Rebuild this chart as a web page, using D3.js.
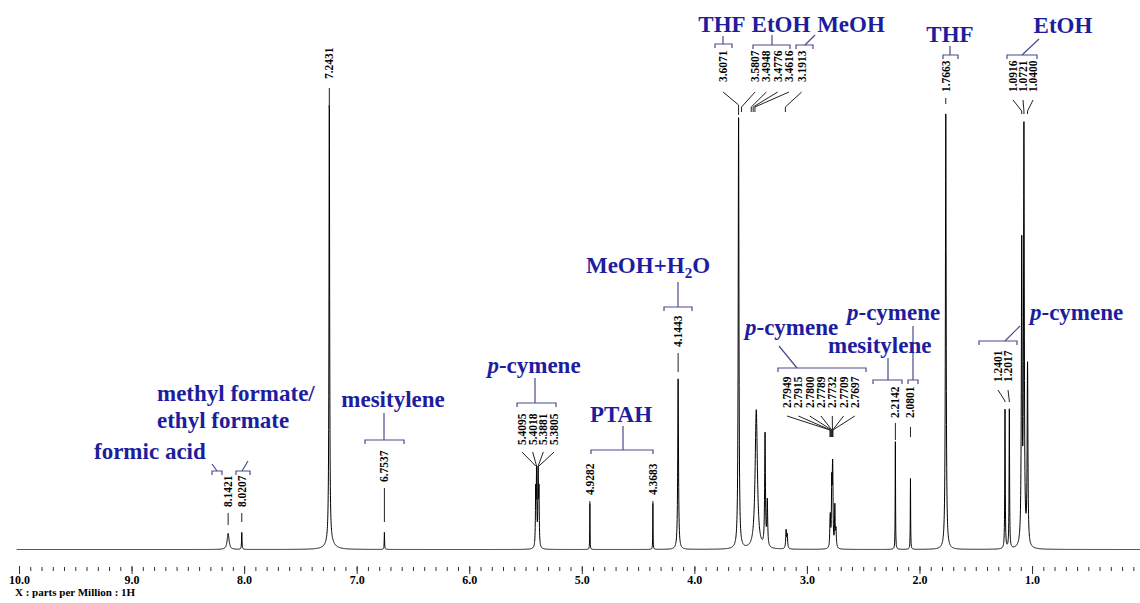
<!DOCTYPE html>
<html>
<head>
<meta charset="utf-8">
<script src="https://cdn.jsdelivr.net/npm/d3@7"></script>
<style>
body { margin: 0; background: #fff; }
svg { display: block; }
</style>
</head>
<body>
<div id="chart"></div>
<script>
// peaks: position (ppm), height (tallest ~ 100), half width (ppm)
var peakPpm    = [8.1421, 8.0207, 7.2431, 7.235, 6.7537,
                  5.4095, 5.4018, 5.3881, 5.3805, 4.9282, 4.3683, 4.1443,
                  3.6071, 3.45, 3.372, 3.352, 3.185, 3.175,
                  2.7949, 2.7915, 2.7800, 2.7789, 2.7732, 2.7709, 2.7697, 2.752, 2.742,
                  2.2142, 2.0801, 1.7663, 1.2401, 1.2017, 1.0916, 1.0721, 1.0400];
var peakHeight = [3.6, 3.8, 97.5, 1.5, 3.8,
                  12, 16, 16, 12, 10.2, 10.2, 38,
                  96, 31, 25, 10, 4, 3,
                  4, 5, 7, 7, 9, 7, 6, 9, 4,
                  24, 15.8, 97, 31, 31, 66, 92, 40];
var peakWidth  = [0.010, 0.0025, 0.0035, 0.04, 0.002,
                  0.003, 0.003, 0.003, 0.003, 0.0015, 0.0015, 0.004,
                  0.004, 0.012, 0.004, 0.004, 0.004, 0.004,
                  0.003, 0.003, 0.003, 0.003, 0.003, 0.003, 0.003, 0.003, 0.004,
                  0.0018, 0.0018, 0.004, 0.0025, 0.0025, 0.004, 0.004, 0.004];

// printed peak-pick labels, in the groups they are drawn in
var labelGroups = [
  [8.1421], [8.0207], [7.2431], [6.7537],
  [5.4095, 5.4018, 5.3881, 5.3805],
  [4.9282], [4.3683], [4.1443],
  [3.6071], [3.5807, 3.4948, 3.4776, 3.4616], [3.1913],
  [2.7949, 2.7915, 2.7800, 2.7789, 2.7732, 2.7709, 2.7697],
  [2.2142], [2.0801], [1.7663],
  [1.2401, 1.2017], [1.0916, 1.0721, 1.0400]
];

var majorTicks = [10, 9, 8, 7, 6, 5, 4, 3, 2, 1];
var axisTitle = "X : parts per Million : 1H";

// layout of the label groups: centre of the label row (ppm), label bottom, where the leader lines bend / end (px)
var labelLayout = [
  {at: 8.1421, bottom: 507, bend: 513, tip: 513, end: 525},
  {at: 8.0207, bottom: 507, bend: 513, tip: 513, end: 522},
  {at: 7.2431, bottom: 79,  bend: 88,  tip: 88,  end: 108},
  {at: 6.7537, bottom: 482, bend: 488, tip: 488, end: 522},
  {at: 5.389,  bottom: 445, bend: 452, tip: 466, end: 466, step: 10.7},
  {at: 4.9282, bottom: 495, bend: 501, tip: 501, end: 504},
  {at: 4.3683, bottom: 495, bend: 501, tip: 501, end: 504},
  {at: 4.1443, bottom: 347, bend: 353, tip: 353, end: 372},
  {at: 3.745,  bottom: 82,  bend: 92,  tip: 105, end: 115},
  {at: 3.310,  bottom: 82,  bend: 92,  tip: 107, end: 112, step: 11.3},
  {at: 3.047,  bottom: 82,  bend: 92,  tip: 107, end: 112},
  {at: 2.875,  bottom: 408, bend: 416, tip: 430, end: 437, step: 11.3},
  {at: 2.2142, bottom: 418, bend: 423, tip: 423, end: 440},
  {at: 2.0801, bottom: 418, bend: 427, tip: 427, end: 437},
  {at: 1.7663, bottom: 92,  bend: 98,  tip: 98,  end: 104},
  {at: 1.258,  bottom: 382, bend: 390, tip: 401, end: 402, step: 10},
  {at: 1.080,  bottom: 92,  bend: 100, tip: 111, end: 114, step: 10}
];

// blue assignments: text, anchor point, bracket [x1, x2, y] and stem [x1, y1, x2, y2]
var notes = [
  {text: "formic acid", x: 94, y: 459, anchor: "start", br: [212, 222, 471], stem: [217, 471, 212, 464]},
  {text: "methyl formate/", x: 157, y: 401, anchor: "start", br: [236, 250, 471], stem: [242, 471, 248, 461]},
  {text: "ethyl formate", x: 157, y: 428, anchor: "start"},
  {text: "mesitylene", x: 393, y: 407, anchor: "middle", br: [365, 404, 440], stem: [384, 440, 384, 413]},
  {text: "p-cymene", x: 534, y: 373, anchor: "middle", br: [517, 556, 403], stem: [535, 403, 535, 378]},
  {text: "PTAH", x: 621, y: 422, anchor: "middle", br: [591, 653, 450], stem: [623, 450, 623, 426]},
  {text: "MeOH+H2O", x: 648, y: 273, anchor: "middle", br: [664, 692, 307], stem: [678, 307, 678, 282]},
  {text: "THF", x: 722, y: 32, anchor: "middle", br: [715, 732, 44], stem: [723, 44, 723, 36]},
  {text: "EtOH", x: 781, y: 32, anchor: "middle", br: [753, 790, 45], stem: [772, 45, 772, 35]},
  {text: "MeOH", x: 851, y: 32, anchor: "middle", br: [796, 813, 45], stem: [805, 45, 815, 35]},
  {text: "p-cymene", x: 745, y: 335, anchor: "start", br: [778, 866, 368], stem: [797, 368, 779, 346]},
  {text: "p-cymene", x: 847, y: 320, anchor: "start", br: [908, 918, 380], stem: [913, 380, 913, 326]},
  {text: "mesitylene", x: 828, y: 353, anchor: "start", br: [873, 902, 380], stem: [888, 380, 888, 358]},
  {text: "THF", x: 950, y: 42, anchor: "middle", br: [943, 958, 55], stem: [950, 55, 950, 46]},
  {text: "EtOH", x: 1063, y: 33, anchor: "middle", br: [1007, 1037, 55], stem: [1022, 55, 1039, 39]},
  {text: "p-cymene", x: 1030, y: 320, anchor: "start", br: [979, 1017, 341], stem: [1005, 341, 1020, 326]}
];

var width = 1140, height = 603;
var blue = "#1d1d9e", bracketColor = "#4a4a8c";

var svg = d3.select("#chart")
  .append("svg")
  .attr("width", width)
  .attr("height", height);

var x = d3.scaleLinear().domain([10, 0]).range([19, 1144.6]);
var y = d3.scaleLinear().domain([0, 100]).range([549.5, 100.5]);

// spectrum = sum of lorentzian lines of the peaks above
var grid = d3.range(10.02, -0.05, -0.001).concat(peakPpm);
grid.sort(function(a, b) { return b - a; });
var spectrum = grid.map(function(p) {
  var s = 0;
  for (var i = 0; i < peakPpm.length; i++) {
    var d = p - peakPpm[i], w = peakWidth[i];
    s += peakHeight[i] * w * w / (d * d + w * w);
  }
  return [p, s];
});

svg.append("path")
  .datum(spectrum)
  .attr("fill", "none")
  .attr("stroke", "#000")
  .attr("stroke-width", 1)
  .attr("d", d3.line().x(function(d) { return x(d[0]); }).y(function(d) { return y(d[1]); }));

// axis: minor ticks every 0.1 ppm, majors labelled
var minorTicks = d3.range(0, 101).map(function(i) { return i / 10; });
svg.append("g")
  .attr("transform", "translate(0,567)")
  .call(d3.axisBottom(x).tickValues(minorTicks).tickSize(4).tickFormat(""))
  .call(function(g) { g.select(".domain").remove(); g.selectAll("line").attr("stroke", "#333"); });

svg.append("g")
  .attr("transform", "translate(0,566)")
  .call(d3.axisBottom(x).tickValues(majorTicks).tickSize(8).tickPadding(1).tickFormat(d3.format(".1f")))
  .call(function(g) {
    g.select(".domain").remove();
    g.selectAll("line").attr("stroke", "#333");
    g.selectAll("text")
      .attr("font-family", "'Liberation Serif', serif")
      .attr("font-weight", "bold")
      .attr("font-size", 12)
      .attr("fill", "#000");
  });

svg.append("text")
  .attr("x", 15)
  .attr("y", 596)
  .attr("font-family", "'Liberation Serif', serif")
  .attr("font-weight", "bold")
  .attr("font-size", 11)
  .text(axisTitle);

// peak-pick labels with their leader lines
var lab = svg.append("g");
labelGroups.forEach(function(grp, gi) {
  var lay = labelLayout[gi];
  var step = lay.step || 0;
  var cx = x(lay.at);
  grp.forEach(function(ppm, i) {
    var lx = cx + (i - (grp.length - 1) / 2) * step;
    var px = x(ppm);
    lab.append("text")
      .attr("transform", "translate(" + lx + "," + lay.bottom + ") rotate(-90)")
      .attr("dy", "0.35em")
      .attr("font-family", "'Liberation Serif', serif")
      .attr("font-weight", "bold")
      .attr("font-size", 11.5)
      .text(ppm.toFixed(4));
    var pts = [[lx, lay.bend], [px, lay.tip], [px, lay.end]];
    lab.append("path")
      .attr("fill", "none")
      .attr("stroke", "#222")
      .attr("stroke-width", 1)
      .attr("d", d3.line()(pts));
  });
});

// blue assignments
var ann = svg.append("g");
notes.forEach(function(n) {
  var t = ann.append("text")
    .attr("x", n.x)
    .attr("y", n.y)
    .attr("text-anchor", n.anchor)
    .attr("font-family", "'Liberation Serif', serif")
    .attr("font-weight", "bold")
    .attr("font-size", 23)
    .attr("fill", blue);
  if (n.text === "p-cymene") {
    t.append("tspan").attr("font-style", "italic").text("p");
    t.append("tspan").text("-cymene");
  } else if (n.text === "MeOH+H2O") {
    t.append("tspan").text("MeOH+H");
    t.append("tspan").attr("font-size", 15).attr("dy", 5).text("2");
    t.append("tspan").attr("dy", -5).text("O");
  } else {
    t.text(n.text);
  }
  if (n.br) {
    var b = n.br;
    ann.append("path")
      .attr("fill", "none")
      .attr("stroke", bracketColor)
      .attr("stroke-width", 1.2)
      .attr("d", "M" + b[0] + "," + (b[2] + 4) + "V" + b[2] + "H" + b[1] + "V" + (b[2] + 4));
    ann.append("line")
      .attr("x1", n.stem[0]).attr("y1", n.stem[1])
      .attr("x2", n.stem[2]).attr("y2", n.stem[3])
      .attr("stroke", bracketColor)
      .attr("stroke-width", 1.2);
  }
});
</script>
</body>
</html>
